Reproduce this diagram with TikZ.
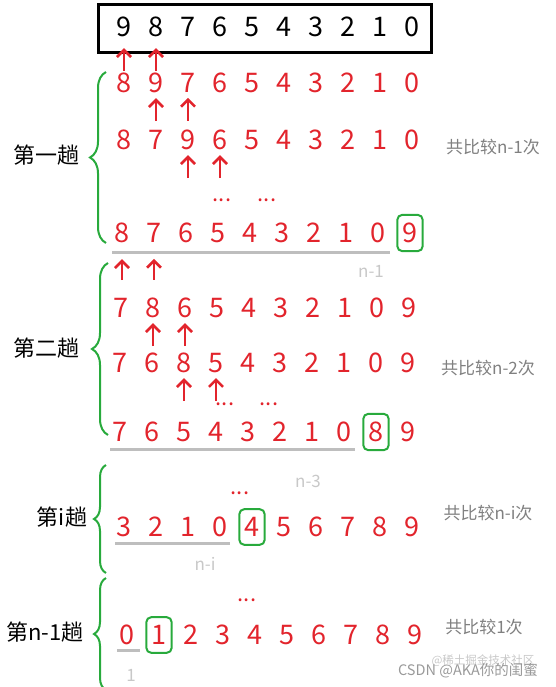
\documentclass[tikz,border=0pt]{standalone}
\usepackage{fontspec}
\setmainfont{Noto Sans CJK SC}
\usetikzlibrary{arrows.meta,decorations.pathreplacing,fit}
\definecolor{numred}{RGB}{226,36,44}
\definecolor{keepgreen}{RGB}{40,170,60}
\definecolor{notegray}{RGB}{128,128,128}
\definecolor{lengray}{RGB}{200,200,200}
\definecolor{linegray}{RGB}{190,190,190}
\tikzset{
  num/.style={text=numred, font=\fontsize{27}{27}\selectfont, inner sep=0pt},
  cmp/.style={draw=numred, line width=2.6pt, -{Straight Barb[length=7pt,width=14pt]}},
  hit/.style={draw=keepgreen, line width=2pt, rounded corners=5pt, inner xsep=5pt, inner ysep=8pt},
  pass/.style={draw=keepgreen, line width=2pt, decorate, decoration={brace, amplitude=16pt}},
  sep/.style={draw=linegray, line width=3pt},
  note/.style={text=notegray, font=\fontsize{17}{17}\selectfont},
  len/.style={text=lengray, font=\fontsize{17}{17}\selectfont},
  dots/.style={text=numred, font=\fontsize{22}{22}\selectfont, inner sep=0pt},
  title/.style={font=\fontsize{22}{22}\selectfont},
}
\begin{document}
\begin{tikzpicture}[x=1pt, y=-1pt]
  \useasboundingbox (0,0) rectangle (555,687);
  % the array before sorting
  \foreach \d [count=\i] in {9,8,7,6,5,4,3,2,1,0}
    \node[num, text=black] (r0-\i) at ({124+32*(\i-1)},27) {\d};
  \draw[line width=3pt] (98,5) rectangle (431,53);
  % rows of the passes
  \foreach \r/\y/\x/\list in {
      1/83/124/{8,9,7,6,5,4,3,2,1,0},
      2/140/124/{8,7,9,6,5,4,3,2,1,0},
      3/233/122/{8,7,6,5,4,3,2,1,0,9},
      4/308/121/{7,8,6,5,4,3,2,1,0,9},
      5/363/120/{7,6,8,5,4,3,2,1,0,9},
      6/432/120/{7,6,5,4,3,2,1,0,8,9},
      7/527/124/{3,2,1,0,4,5,6,7,8,9},
      8/635/127/{0,1,2,3,4,5,6,7,8,9}}
    \foreach \d [count=\i] in \list
      \node[num] (r\r-\i) at ({\x+32*(\i-1)},\y) {\d};
  % compare arrows
  \foreach \n in {r0-1,r0-2}
    \draw[cmp] ([yshift=-34pt]\n.south) -- ([yshift=-11pt]\n.south);
  \foreach \n in {r1-2,r1-3,r2-3,r2-4,r4-2,r4-3,r5-3,r5-4}
    \draw[cmp] ([yshift=-28pt]\n.south) -- ([yshift=-5pt]\n.south);
  \foreach \n in {r3-1,r3-2}
    \draw[cmp] ([yshift=-37pt]\n.south) -- ([yshift=-16pt]\n.south);
  \node[dots] (d1) at (222,200) {...};
  \node[dots] (d2) at (267,200) {...};
  \node[dots] (d3) at (225,404) {...};
  \node[dots] (d4) at (269,404) {...};
  \node[dots] (d5) at (240,493) {...};
  \node[dots] (d6) at (247,600) {...};
  % sorted elements
  \node[hit, fit=(r3-10)] (k1) {};
  \node[hit, fit=(r6-9)] (k2) {};
  \node[hit, fit=(r7-5)] (k3) {};
  \node[hit, fit=(r8-2)] (k4) {};
  % unsorted part
  \draw[sep] (112,252) -- (390,252);
  \draw[sep] (110,449) -- (355,449);
  \draw[sep] (115,543) -- (230,543);
  \draw[sep] (117,650) -- (140,650);
  \node[len] (l1) at (371,271) {n-1};
  \node[len] (l2) at (308,481) {n-3};
  \node[len] (l3) at (205,564) {n-i};
  \node[len] (l4) at (131,675) {1};
  % passes
  \draw[pass] (106,243) -- (106,72);
  \draw[pass] (108,435) -- (108,263);
  \draw[pass, decoration={amplitude=12pt}] (106,573) -- (106,465);
  \draw[pass, decoration={amplitude=12pt}] (106,690) -- (106,578);
  \node[title] (p1) at (46,155) {第一趟};
  \node[title] (p2) at (46,348) {第二趟};
  \node[title] (p3) at (62,517) {第i趟};
  \node[title] (p4) at (45,632) {第n-1趟};
  \node[note] (c1) at (493,147) {共比较n-1次};
  \node[note] (c2) at (488,368) {共比较n-2次};
  \node[note] (c3) at (488,513) {共比较n-i次};
  \node[note] (c4) at (484,627) {共比较1次};
  % watermark
  \node[text=lengray, font=\fontsize{11.5}{11.5}\selectfont] (w1) at (483,661) {@稀土掘金技术社区};
  \node[text=notegray, opacity=0.8, font=\fontsize{14.5}{14.5}\selectfont] (w2) at (468,671) {CSDN @AKA你的闺蜜};
\end{tikzpicture}
\end{document}
